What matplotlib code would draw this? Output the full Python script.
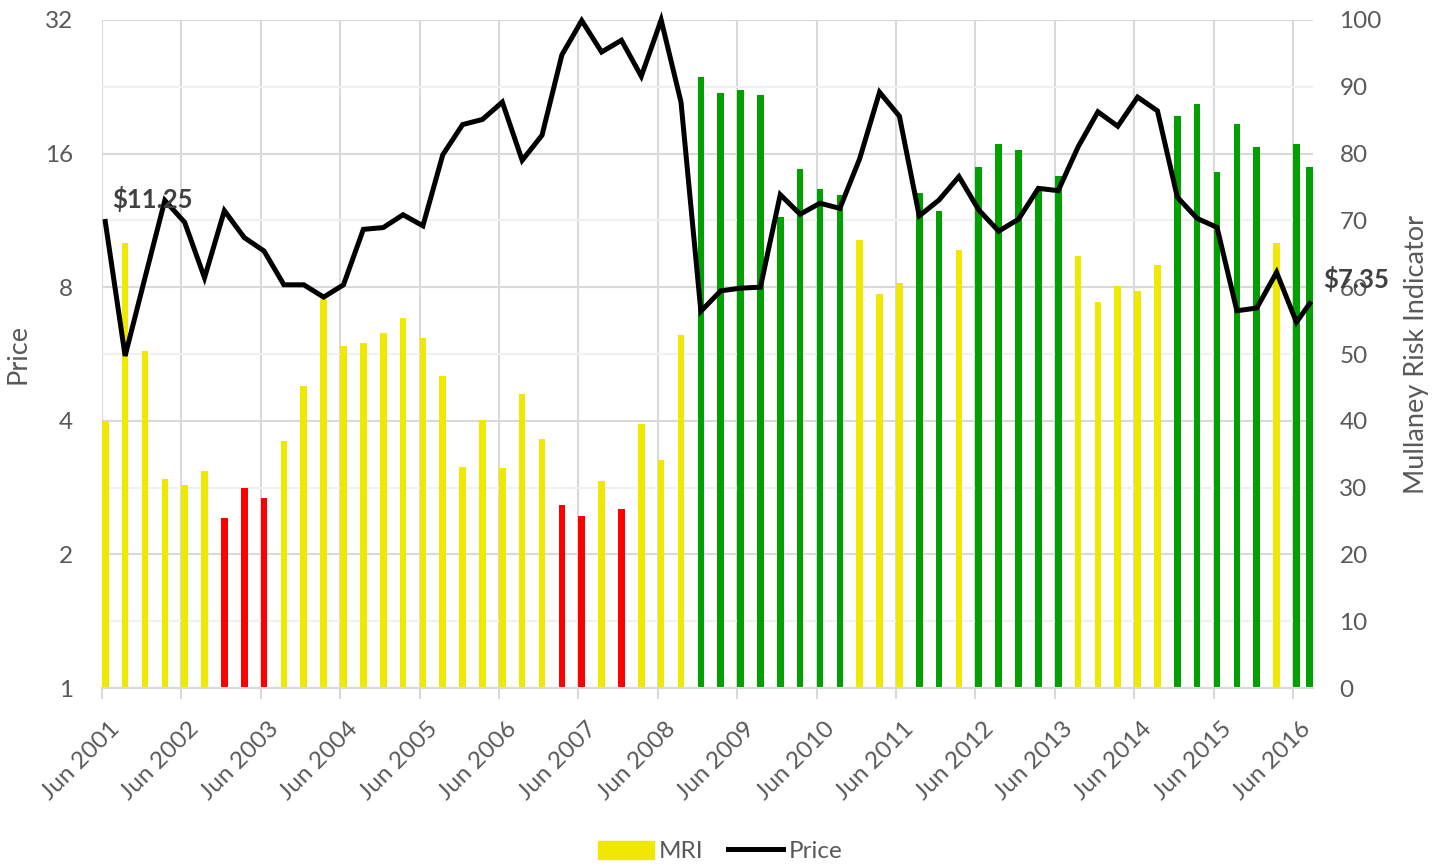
import matplotlib
matplotlib.use("Agg")
import matplotlib.pyplot as plt
from matplotlib.patches import Patch
from matplotlib.lines import Line2D
from matplotlib.ticker import FixedLocator, NullFormatter
from matplotlib.transforms import ScaledTranslation

plt.rcParams['font.family'] = ['Lato', 'DejaVu Sans']

# quarterly observations (last one is Aug 2016)
dates = ['2001-06', '2001-09', '2001-12', '2002-03', '2002-06', '2002-09', '2002-12',
         '2003-03', '2003-06', '2003-09', '2003-12', '2004-03', '2004-06', '2004-09',
         '2004-12', '2005-03', '2005-06', '2005-09', '2005-12', '2006-03', '2006-06',
         '2006-09', '2006-12', '2007-03', '2007-06', '2007-09', '2007-12', '2008-03',
         '2008-06', '2008-09', '2008-12', '2009-03', '2009-06', '2009-09', '2009-12',
         '2010-03', '2010-06', '2010-09', '2010-12', '2011-03', '2011-06', '2011-09',
         '2011-12', '2012-03', '2012-06', '2012-09', '2012-12', '2013-03', '2013-06',
         '2013-09', '2013-12', '2014-03', '2014-06', '2014-09', '2014-12', '2015-03',
         '2015-06', '2015-09', '2015-12', '2016-03', '2016-06', '2016-08']

mri = [40.0, 66.6, 50.4, 31.35, 30.45, 32.45, 25.4, 29.9, 28.45, 36.95,
       45.15, 58.25, 51.25, 51.6, 53.2, 55.45, 52.45, 46.75, 33.05, 40.1,
       32.95, 44.0, 37.25, 27.45, 25.7, 31.05, 26.85, 39.45, 34.1, 52.8,
       91.5, 89.0, 89.5, 88.8, 70.5, 77.75, 74.75, 73.75, 67.1, 59.0,
       60.65, 74.15, 71.4, 65.6, 78.0, 81.45, 80.6, 74.35, 76.65, 64.6,
       57.85, 60.2, 59.5, 63.35, 85.7, 87.4, 77.2, 84.4, 80.95, 66.65,
       81.4, 77.95]

price = [11.25, 5.6, 8.4, 12.55, 11.2, 8.4, 11.9, 10.35, 9.65, 8.1,
         8.1, 7.6, 8.1, 10.8, 10.9, 11.65, 11.0, 15.9, 18.6, 19.1,
         20.9, 15.45, 17.6, 26.7, 31.9, 27.1, 28.8, 23.9, 32.0, 20.9,
         7.06, 7.85, 7.96, 8.0, 12.93, 11.68, 12.37, 12.04, 15.58, 22.0,
         19.43, 11.58, 12.58, 14.2, 11.94, 10.7, 11.38, 13.36, 13.2, 16.56,
         19.87, 18.44, 21.45, 19.97, 12.76, 11.43, 10.91, 7.08, 7.18, 8.64,
         6.67, 7.35]

zones = (['Y'] * 6 + ['R'] * 3 + ['Y'] * 14 + ['R'] * 2 + ['Y'] + ['R'] + ['Y'] * 3 +
         ['G'] * 8 + ['Y'] * 3 + ['G'] * 2 + ['Y'] + ['G'] * 5 + ['Y'] * 5 +
         ['G'] * 5 + ['Y'] + ['G'] * 2)

zone_colors = {'Y': '#F0E800', 'R': '#FF0000', 'G': '#00A000'}
years = list(range(2001, 2017))
tick_labels = ['Jun %d' % y for y in years]
left_ticks = [1, 2, 4, 8, 16, 32]
right_ticks = [0, 10, 20, 30, 40, 50, 60, 70, 80, 90, 100]

# month slots since Jun 2001, each point sits in the middle of its month
def month_pos(d):
    y, m = d.split('-')
    return (int(y) - 2001) * 12 + (int(m) - 6) + 0.5

x = [month_pos(d) for d in dates]
bar_cols = [zone_colors[z] for z in zones]

gray = '#595959'
fs = 17.5
fig = plt.figure(figsize=(14.4, 8.65), dpi=100)
ax = fig.add_axes([0.0708, 0.2046, 0.8410, 0.7723])
ax2 = ax.twinx()

ax.bar(x, mri, width=1.0, color=bar_cols, zorder=2, linewidth=0)
ax.set_ylim(0, 100)
ax.set_xlim(0, 183)
ax.yaxis.tick_right()
ax.yaxis.set_label_position('right')
ax.set_yticks(right_ticks)
ax.yaxis.set_minor_locator(FixedLocator([0, 20, 40, 60, 80, 100]))
ax.yaxis.set_minor_formatter(NullFormatter())
ax.yaxis.remove_overlapping_locs = False
ax.set_axisbelow(True)
ax.grid(axis='y', which='major', color='#F0F0F0', linewidth=1.5)
ax.grid(axis='y', which='minor', color='#D9D9D9', linewidth=1.5)
ax.tick_params(axis='y', which='both', length=0, labelsize=fs, labelcolor=gray, pad=19,
               left=False, labelleft=False, right=True, labelright=True)
ax.set_ylabel('Mullaney Risk Indicator', fontsize=19.5, color=gray)
ax.yaxis.set_label_coords(1.0751, 0.5)

ax.set_xticks([(y - 2001) * 12 for y in years])
ax.set_xticklabels(tick_labels, rotation=45, ha='right', va='top', rotation_mode='anchor')
ax.grid(axis='x', color='#D9D9D9', linewidth=1.5)
ax.tick_params(axis='x', length=8, width=1.5, color='#D9D9D9', labelsize=fs,
               labelcolor=gray, pad=14)
shift = ScaledTranslation(0.07, 0, fig.dpi_scale_trans)
for lbl in ax.get_xticklabels():
    lbl.set_transform(lbl.get_transform() + shift)

for s in ['top', 'left', 'right']:
    ax.spines[s].set_visible(False)
ax.spines['bottom'].set_color('#D9D9D9')
ax.spines['bottom'].set_linewidth(1.5)

ax2.plot(x, price, color='black', linewidth=3.6, solid_joinstyle='miter',
         clip_on=False, zorder=3)
ax2.set_yscale('log', base=2)
ax2.set_ylim(1, 32)
ax2.yaxis.tick_left()
ax2.yaxis.set_label_position('left')
ax2.set_yticks(left_ticks)
ax2.set_yticklabels([str(v) for v in left_ticks])
ax2.yaxis.set_minor_formatter(NullFormatter())
ax2.tick_params(axis='y', which='both', length=0, labelsize=fs, labelcolor=gray, pad=21)
ax2.set_ylabel('Price', fontsize=19.5, color=gray)
ax2.yaxis.set_label_coords(-0.0586, 0.5)
for s in ax2.spines.values():
    s.set_visible(False)

ax2.annotate('$%.2f' % price[0], (x[0], price[0]), xytext=(5, 7),
             textcoords='offset points', ha='left', va='bottom',
             fontsize=18.5, fontweight='bold', color='#404040')
ax2.annotate('$%.2f' % price[-1], (x[-1], price[-1]), xytext=(10, 18),
             textcoords='offset points', ha='left', va='center',
             fontsize=18.5, fontweight='bold', color='#404040')

handles = [Patch(color=zone_colors['Y']), Line2D([], [], color='black', linewidth=3.6)]
fig.legend(handles, ['MRI', 'Price'], loc='lower center', bbox_to_anchor=(0.5, -0.022),
           ncol=2, frameon=False, fontsize=fs, labelcolor=gray, handlelength=2.3,
           handleheight=0.75, handletextpad=0.2, columnspacing=1.0)

fig.savefig('out.png', dpi=100)
